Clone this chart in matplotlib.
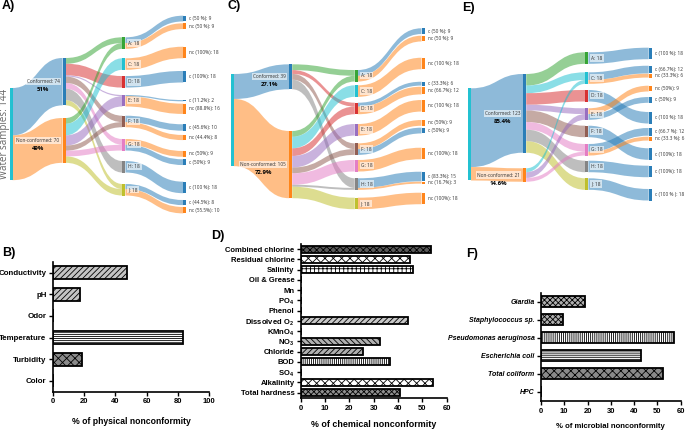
import matplotlib
matplotlib.use('Agg')
import matplotlib.pyplot as plt
from matplotlib.path import Path
from matplotlib.patches import PathPatch, Rectangle

plt.rcParams['font.family'] = ['Liberation Sans', 'DejaVu Sans']
plt.rcParams['mathtext.fontset'] = 'custom'
plt.rcParams['mathtext.rm'] = 'Liberation Sans:bold'
plt.rcParams['mathtext.it'] = 'Liberation Sans:bold:italic'
plt.rcParams['mathtext.bf'] = 'Liberation Sans:bold'
plt.rcParams['hatch.linewidth'] = 0.6

# ---------------- Sankey data ----------------
# Panel A (physical)
A_labels = ['Water samples: 144', 'Conformed: 74', 'Non-conformed: 70',
            'A: 18', 'C: 18', 'D: 18', 'E: 18', 'F: 18', 'G: 18', 'H: 18', 'J: 18',
            'c (50 %): 9', 'nc (50 %): 9', 'nc (100%): 18', 'c (100%): 18',
            'c (11.2%): 2', 'nc (88.8%): 16', 'c (45.6%): 10', 'nc (44.4%): 8',
            'nc (50%): 9', 'c (50%): 9', 'c (100 %): 18', 'c (44.5%): 8', 'nc (55.5%): 10']
A_src = [0, 0, 1, 1, 1, 1, 1, 1, 1, 2, 2, 2, 2, 2, 2,
         3, 3, 4, 5, 6, 6, 7, 7, 8, 8, 9, 10, 10]
A_tgt = [1, 2, 3, 5, 6, 7, 8, 9, 10, 3, 4, 6, 7, 8, 10,
         11, 12, 13, 14, 15, 16, 17, 18, 19, 20, 21, 22, 23]
A_val = [74, 70, 9, 18, 2, 10, 9, 18, 8, 9, 18, 16, 8, 9, 10,
         9, 9, 18, 18, 2, 16, 10, 8, 9, 9, 18, 8, 10]
A_pct = {1: '51%', 2: '49%'}

# Panel C (chemical)
C_labels = ['', 'Conformed: 39', 'Non-conformed: 105',
            'A: 18', 'C: 18', 'D: 18', 'E: 18', 'F: 18', 'G: 18', 'H: 18', 'J: 18',
            'c (50 %): 9', 'nc (50 %): 9', 'nc (100 %): 18', 'c (33.3%): 6',
            'nc (66.7%): 12', 'nc (100 %): 18', 'nc (50%): 9', 'c (50%): 9',
            'nc (100%): 18', 'c (83.3%): 15', 'nc (16.7%): 3', 'nc (100%): 18']
C_src = [0, 0, 1, 1, 1, 1, 2, 2, 2, 2, 2, 2, 2, 2,
         3, 3, 4, 5, 5, 6, 7, 7, 8, 9, 9, 10]
C_tgt = [1, 2, 3, 5, 7, 9, 3, 4, 5, 6, 7, 8, 9, 10,
         11, 12, 13, 14, 15, 16, 17, 18, 19, 20, 21, 22]
C_val = [39, 105, 9, 6, 9, 15, 9, 18, 12, 18, 9, 18, 3, 18,
         9, 9, 18, 6, 12, 18, 9, 9, 18, 15, 3, 18]
C_pct = {1: '27.1%', 2: '72.9%'}

# Panel E (microbial)
E_labels = ['', 'Conformed: 123', 'Non-conformed: 21',
            'A: 18', 'C: 18', 'D: 18', 'E: 18', 'F: 18', 'G: 18', 'H: 18', 'J: 18',
            'c (100 %): 18', 'c (66.7%): 12', 'nc (33.3%): 6', 'nc (50%): 9',
            'c (50%): 9', 'c (100 %): 18', 'c (66.7 %): 12', 'nc (33.3 %): 6',
            'c (100%): 18', 'c (100%): 18', 'c (100 % ): 18']
E_src = [0, 0, 1, 1, 1, 1, 1, 1, 1, 1, 2, 2, 2,
         3, 4, 4, 5, 6, 6, 7, 8, 8, 9, 10]
E_tgt = [1, 2, 3, 4, 5, 6, 7, 8, 9, 10, 4, 6, 8,
         11, 12, 13, 16, 14, 15, 19, 17, 18, 20, 21]
E_val = [123, 21, 18, 12, 18, 9, 18, 12, 18, 18, 6, 9, 6,
         18, 12, 6, 18, 9, 9, 18, 12, 6, 18, 18]
E_pct = {1: '85.4%', 2: '14.6%'}

# ---------------- Sankey layout (arrangement, not data) ----------------
A_cols = [0, 1, 1] + [2] * 8 + [3] * 13
A_tops = [137.5, 90.6, 184.4, 58.3, 91.1, 118.8, 148.4, 180.8, 217.2, 251.6, 287.5,
          24.5, 36.4, 73.0, 110.9, 156.3, 162.0, 194.2, 210.9, 235.9, 248.9, 283.9, 312.5, 323.4]
C_cols = [0, 1, 1] + [2] * 8 + [3] * 12
C_tops = [115.6, 100.5, 204.7, 109.4, 133.3, 160.5, 193.8, 224.0, 250.0, 278.6, 308.9,
          44.2, 55.8, 90.2, 127.7, 135.5, 156.3, 187.5, 199.5, 230.8, 268.3, 283.9, 301.1]
E_cols = [0, 1, 1] + [2] * 8 + [3] * 11
E_tops = [138.0, 115.6, 263.0, 81.7, 113.0, 140.6, 169.2, 196.4, 225.0, 251.1, 278.6,
          74.5, 102.7, 115.2, 133.9, 151.6, 175.0, 200.0, 213.6, 231.7, 258.9, 295.3]

# ---------------- Bar chart data ----------------
B_cats = ['Conductivity', 'pH', 'Odor', 'Temperature', 'Turbidity', 'Color']
B_vals = [47.3, 17.4, 0, 83.0, 18.9, 0]
D_cats = ['Combined chlorine', 'Residual chlorine', 'Salinity', 'Oil & Grease', 'Mn',
          'PO$_4$', 'Phenol', 'Dissolved O$_2$', 'KMnO$_4$', 'NO$_3$', 'Chloride',
          'BOD', 'SO$_4$', 'Alkalinity', 'Total hardness']
D_vals = [53.5, 45.0, 46.0, 0, 0, 0, 0, 44.0, 0, 32.5, 25.7, 36.5, 0, 54.5, 41.0]
F_cats = ['Giardia', 'Staphylococcus sp.', 'Pseudomonas aeruginosa', 'Escherichia coli',
          'Total coliform', 'HPC']
F_vals = [19.0, 9.5, 57.0, 43.0, 52.5, 0]

# ---------------- styles ----------------
B_hatch = ['//////', '//////', '', '--------', 'xxxx', '']
B_fill = ['#c4c4c4', '#c4c4c4', 'white', 'white', '#8a8a8a', 'white']
D_hatch = ['xxxxx', 'xxxx', '++++', '', '', '', '', '//////', '', '\\\\\\\\\\\\',
           '//////', '||||||||', '', 'xxxx', 'xxxxxx']
D_fill = ['#5a5a5a', 'white', 'white', 'white', 'white', 'white', 'white', '#c8c8c8',
          'white', '#b0b0b0', '#b0b0b0', 'white', 'white', 'white', '#909090']
F_hatch = ['xxxxxx', 'xxxxxx', '||||||||', '--------', 'xxxx', '']
F_fill = ['#b0b0b0', '#b0b0b0', 'white', 'white', '#8a8a8a', 'white']

BLUE, ORANGE = '#1f77b4', '#ff7f0e'
LETTER_COLORS = {'A': '#2ca02c', 'C': '#17becf', 'D': '#d62728', 'E': '#9467bd',
                 'F': '#8c564b', 'G': '#e377c2', 'H': '#7f7f7f', 'J': '#bcbd22'}
COLX = [0.0, 0.30, 0.638, 0.982]
UNIT_PX = 0.64
SK_Y0, SK_Y1 = 0, 232
SANKEY_FONT = ['Open Sans', 'DejaVu Sans']

FIG_W, FIG_H = 685, 432
fig = plt.figure(figsize=(6.85, 4.32), dpi=100)


def px_axes(x0, y0, x1, y1):
    return fig.add_axes([x0 / FIG_W, 1 - y1 / FIG_H, (x1 - x0) / FIG_W, (y1 - y0) / FIG_H])


def node_color(label, col):
    if col == 0:
        return '#17becf'
    if col == 1:
        return BLUE if label.startswith('Conformed') else ORANGE
    if col == 2:
        return LETTER_COLORS[label[0]]
    return BLUE if label.startswith('c') else ORANGE


def draw_sankey(x0px, x1px, labels, cols, tops, src, tgt, val, pcts):
    ax = px_axes(x0px, SK_Y0, x1px, SK_Y1)
    ax.set_xlim(0, 1)
    ax.set_ylim((SK_Y1 - SK_Y0) / UNIT_PX, 0)
    ax.axis('off')
    wpx = x1px - x0px
    nw = 3.0 / wpx
    gap = 3.0 / wpx
    n = len(labels)
    vin = [0] * n
    vout = [0] * n
    for s, t, v in zip(src, tgt, val):
        vout[s] += v
        vin[t] += v
    size = [max(a, b) for a, b in zip(vin, vout)]
    colors = [node_color(l, c) for l, c in zip(labels, cols)]
    m = len(src)
    out_off = [0] * n
    in_off = [0] * n
    ys, yt = [0] * m, [0] * m
    for i in sorted(range(m), key=lambda i: tops[tgt[i]]):
        ys[i] = tops[src[i]] + out_off[src[i]]
        out_off[src[i]] += val[i]
    for i in sorted(range(m), key=lambda i: tops[src[i]]):
        yt[i] = tops[tgt[i]] + in_off[tgt[i]]
        in_off[tgt[i]] += val[i]
    for i in range(m):
        xa = COLX[cols[src[i]]] + nw
        xb = COLX[cols[tgt[i]]]
        xm = (xa + xb) / 2
        a0, a1 = ys[i], ys[i] + val[i]
        b0, b1 = yt[i], yt[i] + val[i]
        verts = [(xa, a0), (xm, a0), (xm, b0), (xb, b0), (xb, b1),
                 (xm, b1), (xm, a1), (xa, a1), (xa, a0)]
        codes = [Path.MOVETO, Path.CURVE4, Path.CURVE4, Path.CURVE4, Path.LINETO,
                 Path.CURVE4, Path.CURVE4, Path.CURVE4, Path.CLOSEPOLY]
        ax.add_patch(PathPatch(Path(verts, codes), facecolor=colors[tgt[i]],
                               alpha=0.5, edgecolor='none', lw=0))
    box = dict(boxstyle='square,pad=0.25', fc='white', ec='none', alpha=0.6)
    for k in range(n):
        c = cols[k]
        ax.add_patch(Rectangle((COLX[c], tops[k]), nw, size[k], facecolor=colors[k],
                               edgecolor='none', alpha=0.95))
        yc = tops[k] + size[k] / 2
        if c == 0 and labels[k]:
            ax.text(COLX[c] - 4.5 / wpx, yc, labels[k], rotation=90, ha='center',
                    va='center', fontsize=7, color='#666666', family=SANKEY_FONT)
        elif c == 1:
            t = ax.text(COLX[c] - gap, yc, labels[k], ha='right', va='center',
                        fontsize=3.4, color='#333333', bbox=box, family=SANKEY_FONT)
            if k in pcts:
                ax.annotate(pcts[k], xy=(0.5, 0), xycoords=t, xytext=(0, -2.2),
                            textcoords='offset points', ha='center', va='top',
                            fontsize=4.3, fontweight='bold', family=SANKEY_FONT)
        elif c == 2:
            ax.text(COLX[c] + nw + gap, yc, labels[k], ha='left', va='center',
                    fontsize=3.5, color='#333333', bbox=box, family=SANKEY_FONT)
        elif c == 3:
            ax.text(COLX[c] + nw + gap, yc, labels[k], ha='left', va='center',
                    fontsize=3.4, color='#333333', family=SANKEY_FONT, clip_on=False)
    return ax


draw_sankey(9.5, 186.5, A_labels, A_cols, A_tops, A_src, A_tgt, A_val, A_pct)
draw_sankey(231.0, 425.0, C_labels, C_cols, C_tops, C_src, C_tgt, C_val, C_pct)
draw_sankey(468.0, 652.0, E_labels, E_cols, E_tops, E_src, E_tgt, E_val, E_pct)


def bar_panel(box, cats, vals, hatches, fills, xmax, xstep, xlabel, fs, h, italic=False,
              xfs=5.5, lfs=6.2, labelpad=8):
    ax = px_axes(*box)
    pos = list(range(len(cats)))
    bars = ax.barh(pos, vals, height=h, color='white', edgecolor='black', linewidth=1.3)
    for b, ht, fc in zip(bars, hatches, fills):
        b.set_hatch(ht)
        b.set_facecolor(fc)
    ax.set_ylim(len(cats) - 0.5, -0.5)
    ax.set_xlim(0, xmax)
    ax.set_xticks(list(range(0, xmax + 1, xstep)))
    ax.set_yticks(pos)
    ax.set_yticklabels(cats, fontsize=fs, fontweight='bold',
                       fontstyle='italic' if italic else 'normal')
    for lab in ax.get_xticklabels():
        lab.set_fontweight('bold')
    ax.tick_params(axis='x', labelsize=xfs, length=3, width=1.0, pad=2)
    ax.tick_params(axis='y', length=3, width=1.0, pad=1.5)
    for s in ['top', 'right']:
        ax.spines[s].set_visible(False)
    for s in ['left', 'bottom']:
        ax.spines[s].set_linewidth(1.2)
    ax.set_xlabel(xlabel, fontsize=lfs, fontweight='bold', labelpad=labelpad)
    return ax


bar_panel((52.7, 261.9, 209.3, 391.5), B_cats, B_vals, B_hatch, B_fill, 100, 20,
          '% of physical nonconformity', 5.7, 0.6, lfs=6.2)
bar_panel((300.7, 243.9, 446.7, 397.8), D_cats, D_vals, D_hatch, D_fill, 60, 10,
          '% of chemical nonconformity', 5.5, 0.68, lfs=6.4, labelpad=6)
bar_panel((541.0, 292.7, 680.7, 400.7), F_cats, F_vals, F_hatch, F_fill, 60, 10,
          '% of microbial nonconformity', 5.0, 0.58, italic=True, lfs=5.6, labelpad=6)

for letter, px, py in [('A)', 2, 6), ('C)', 227, 6), ('E)', 462, 8),
                       ('B)', 2, 253), ('D)', 211, 236), ('F)', 466, 254)]:
    fig.text(px / FIG_W, 1 - py / FIG_H, letter, fontsize=9, fontweight='bold',
             ha='left', va='center')

fig.savefig('out.png', dpi=100)
